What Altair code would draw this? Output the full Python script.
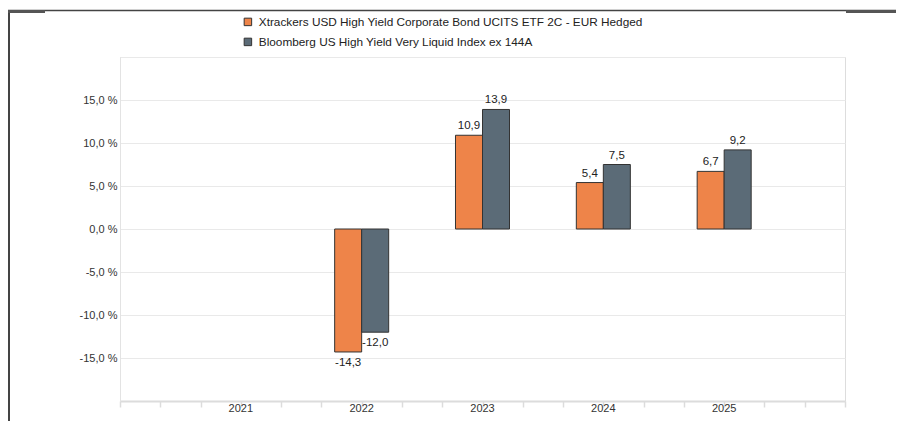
import altair as alt
import pandas as pd

years = ["2021", "2022", "2023", "2024", "2025"]
series = ["Xtrackers USD High Yield Corporate Bond UCITS ETF 2C - EUR Hedged",
          "Bloomberg US High Yield Very Liquid Index ex 144A"]
fund = [None, -14.3, 10.9, 5.4, 6.7]
index = [None, -12.0, 13.9, 7.5, 9.2]
colors = ["#EE8449", "#5B6B77"]
y_ticks = [-20, -15, -10, -5, 0, 5, 10, 15, 20]
x_minor_ticks = list(range(19))

rows = []
for i, y in enumerate(years):
    for s, vals in zip(series, [fund, index]):
        rows.append({"year": y, "series": s, "value": vals[i]})
df = pd.DataFrame(rows)

W, H = 725, 344
FONT = "Liberation Sans"
P_IN = 0.553
P_OUT = (1 + P_IN) / 2

xband = alt.X("year:N", sort=years,
              scale=alt.Scale(domain=years, paddingInner=P_IN, paddingOuter=P_OUT),
              axis=alt.Axis(title=None, orient="bottom", labelAngle=0, ticks=False,
                            domain=False, labelPadding=1, labelFontSize=11,
                            labelFontWeight="normal", labelColor="#333",
                            labelFont=FONT, grid=False))
xoff = alt.XOffset("series:N", sort=series,
                   scale=alt.Scale(domain=series, paddingOuter=0, paddingInner=0))
yenc = alt.Y("value:Q",
             scale=alt.Scale(domain=[-20, 20], nice=False),
             axis=alt.Axis(title=None, values=y_ticks, grid=True, gridColor="#e9e9e9",
                           ticks=False, domain=True, domainColor="#e3e3e3",
                           labelExpr="abs(datum.value) >= 20 ? '' : replace(replace(format(datum.value, '.1f'), '.', ','), '\u2212', '-') + ' %'",
                           labelFontSize=11, labelColor="#333", labelFont=FONT,
                           labelPadding=3))

base = alt.Chart(df).transform_filter("isValid(datum.value)")

bars = base.mark_bar(stroke="#333", strokeWidth=1).encode(
    x=xband, xOffset=xoff, y=yenc,
    fill=alt.Fill("series:N", sort=series,
                  scale=alt.Scale(domain=series, range=colors),
                  legend=alt.Legend(title=None, orient="none", legendX=122, legendY=-41,
                                    symbolType="square", symbolSize=56,
                                    symbolStrokeColor="#333", symbolStrokeWidth=1,
                                    labelFontSize=11.8, labelFont=FONT, labelColor="#222",
                                    labelLimit=600, rowPadding=7, labelOffset=5, padding=0)),
)

lab_fmt = "replace(replace(format(datum.value, '.1f'), '.', ','), '\u2212', '-')"
pos_text = base.transform_filter("datum.value >= 0").transform_calculate(
    lab=lab_fmt).mark_text(baseline="alphabetic", dy=-6, fontSize=11.5, font=FONT,
                           color="#222").encode(
    x=xband, xOffset=xoff, y=alt.Y("value:Q"), text="lab:N")
neg_text = base.transform_filter("datum.value < 0").transform_calculate(
    lab=lab_fmt).mark_text(baseline="top", dy=5, fontSize=11.5, font=FONT,
                           color="#222").encode(
    x=xband, xOffset=xoff, y=alt.Y("value:Q"), text="lab:N")

main = alt.layer(bars, pos_text, neg_text)

tickdf = pd.DataFrame({"t": x_minor_ticks})
ticks_layer = alt.Chart(tickdf).mark_point(opacity=0).encode(
    x=alt.X("t:Q", scale=alt.Scale(domain=[0, 18], nice=False),
            axis=alt.Axis(title=None, orient="bottom", values=x_minor_ticks, labels=False,
                          ticks=True, tickSize=6, tickColor="#dcdcdc", tickWidth=1.5,
                          domain=True, domainColor="#dcdcdc", domainWidth=2, grid=False)),
    y=alt.value(0),
)

one = alt.Data(values=[{"a": 1}])
frame = alt.layer(
    alt.Chart(one).mark_rule(color="#444", strokeWidth=1.5).encode(
        x=alt.value(-112), x2=alt.value(776), y=alt.value(-46.5)),
    alt.Chart(one).mark_rule(color="#444", strokeWidth=2).encode(
        x=alt.value(-111), y=alt.value(-47), y2=alt.value(380)),
    alt.Chart(one).mark_rule(color="#555", strokeWidth=3).encode(
        x=alt.value(-112), x2=alt.value(-75), y=alt.value(-45.5)),
    alt.Chart(one).mark_rule(color="#555", strokeWidth=3).encode(
        x=alt.value(726), x2=alt.value(776), y=alt.value(-45.5)),
)

chart = alt.layer(ticks_layer, main, frame).resolve_scale(x="independent").properties(
    width=W, height=H,
    autosize=alt.AutoSizeParams(type="none"),
    padding={"left": 112, "top": 49, "right": 51, "bottom": 20},
).configure_view(stroke=None).configure(background="white")

chart.save("out.html", embed_options={"renderer": "svg", "actions": False})
